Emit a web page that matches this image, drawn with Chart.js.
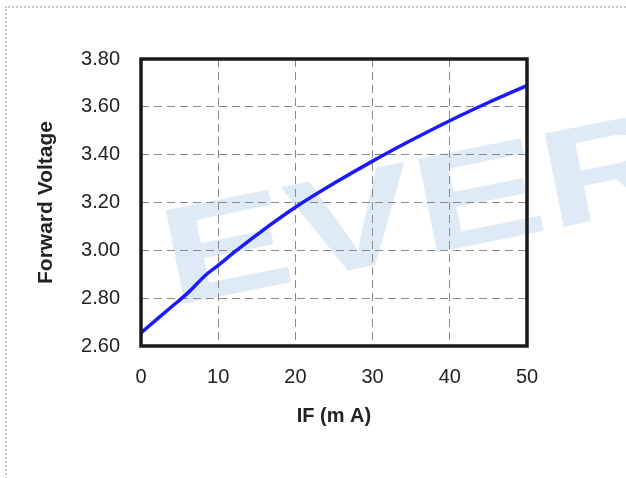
<!doctype html>
<html lang="en">
<head>
  <meta charset="utf-8">
  <title>Forward Voltage vs IF</title>
  <script src="https://cdn.jsdelivr.net/npm/chart.js/dist/chart.umd.min.js"></script>
  <style>
    html, body { margin: 0; padding: 0; overflow: hidden; background: #fff; }
    .frame {
      position: absolute; left: 5px; top: 6px;
      width: 700px; height: 600px;
      border: 2px dotted #c8c8c8;
    }
    .chartBox { position: absolute; left: 0; top: 0; width: 626px; height: 478px; }
  </style>
</head>
<body>
  <div class="frame"></div>
  <div class="chartBox">
    <canvas id="myChart"></canvas>
  </div>

  <script>
    // IF (mA) / forward voltage (V)
    const currentMA = [0, 2, 4, 6, 8.5, 10, 12, 15, 20, 25, 30, 35, 40, 45, 50];
    const voltage = [2.655, 2.71, 2.765, 2.82, 2.90, 2.937, 2.99, 3.065, 3.18, 3.28, 3.373, 3.46, 3.542, 3.618, 3.689];

    const xTicks = [0, 10, 20, 30, 40, 50];
    const yTicks = [2.6, 2.8, 3.0, 3.2, 3.4, 3.6, 3.8];

    const points = currentMA.map((x, i) => ({ x: x, y: voltage[i] }));

    const font = '"Liberation Sans", Arial, sans-serif';

    // faint "EVER" watermark behind everything
    const watermark = {
      id: 'watermark',
      beforeDraw(chart) {
        const ctx = chart.ctx;
        ctx.save();
        ctx.translate(172, 306);
        ctx.rotate(-0.2);
        ctx.scale(1.4, 1);
        ctx.font = 'bold 138px ' + font;
        ctx.fillStyle = 'rgba(200, 222, 240, 0.6)';
        ctx.fillText('EVER', 0, 0);
        ctx.restore();
      }
    };

    // thick black frame round the plot
    const frame = {
      id: 'frame',
      afterDatasetsDraw(chart) {
        const a = chart.chartArea;
        const ctx = chart.ctx;
        ctx.save();
        ctx.strokeStyle = '#1a1a1a';
        ctx.lineWidth = 3.5;
        ctx.strokeRect(a.left, a.top, a.right - a.left, a.bottom - a.top);
        ctx.restore();
      }
    };

    const config = {
      type: 'scatter',
      data: {
        datasets: [{
          data: points,
          showLine: true,
          borderColor: '#1a1aff',
          borderWidth: 3.5,
          pointRadius: 0,
          cubicInterpolationMode: 'monotone',
          fill: false
        }]
      },
      options: {
        responsive: false,
        animation: false,
        layout: { padding: { left: 0, top: 59, right: 99, bottom: 0 } },
        plugins: {
          legend: { display: false },
          tooltip: { enabled: false }
        },
        scales: {
          x: {
            type: 'linear',
            min: 0, max: 50,
            afterBuildTicks: (s) => { s.ticks = xTicks.map(v => ({ value: v })); },
            afterFit: (s) => { s.height = 132; },
            grid: { color: '#8a8a8a', lineWidth: 1, drawTicks: false },
            border: { display: false, dash: [8, 5] },
            ticks: {
              padding: 19,
              color: '#222',
              font: { family: font, size: 20 }
            },
            title: {
              display: true,
              text: 'IF (m A)',
              color: '#222',
              padding: { top: 0, bottom: 50 },
              font: { family: font, size: 20, weight: 'bold' }
            }
          },
          y: {
            min: 2.6, max: 3.8,
            afterBuildTicks: (s) => { s.ticks = yTicks.map(v => ({ value: v })); },
            afterFit: (s) => { s.width = 141; },
            grid: { color: '#8a8a8a', lineWidth: 1, drawTicks: false },
            border: { display: false, dash: [8, 5] },
            ticks: {
              padding: 21,
              color: '#222',
              font: { family: font, size: 20 },
              callback: (v) => Number(v).toFixed(2)
            },
            title: {
              display: true,
              text: 'Forward Voltage',
              color: '#222',
              padding: { top: 34, bottom: 0 },
              font: { family: font, size: 21, weight: 'bold' }
            }
          }
        }
      },
      plugins: [watermark, frame]
    };

    const canvas = document.getElementById('myChart');
    canvas.width = 626;
    canvas.height = 478;
    new Chart(canvas, config);
  </script>
</body>
</html>
